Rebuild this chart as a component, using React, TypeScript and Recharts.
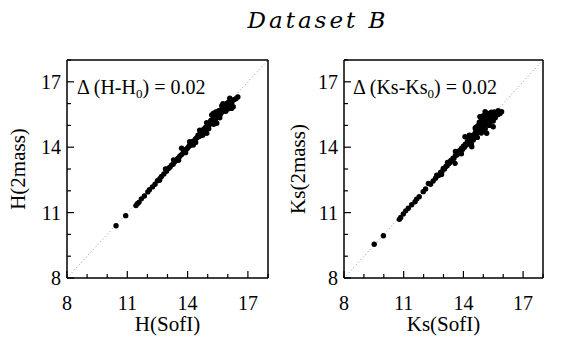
import React from 'react';
import { ScatterChart, Scatter, XAxis, YAxis, ReferenceLine } from 'recharts';

// H band: SofI vs 2MASS magnitudes
const hSofI = [
  10.44, 10.92, 11.43, 11.5, 11.58, 11.7, 11.85, 12.02, 12.1, 12.25, 12.38, 12.5, 12.62, 12.7, 12.82,
  12.95, 13.05, 13.12, 13.2, 13.28, 13.35, 13.42, 13.5, 13.56, 13.62, 13.7, 13.7, 13.78, 13.85, 13.92,
  13.98, 14.05, 14.1, 14.15, 14.2, 14.28, 14.25, 14.32, 14.38, 14.42, 14.48, 14.52, 14.58, 14.62, 14.66,
  14.7, 14.75, 14.8, 14.85, 14.88, 14.95, 14.92, 14.98, 15.02, 15.05, 15.1, 15.15, 15.2, 15.2, 15.25,
  15.28, 15.3, 15.35, 15.4, 15.45, 15.45, 15.5, 15.52, 15.58, 15.6, 15.65, 15.68, 15.72, 15.76, 15.78,
  15.82, 15.86, 15.9, 15.92, 15.96, 16.0, 16.05, 16.08, 16.12, 16.19, 16.2, 16.27, 16.3, 16.4, 16.5,
  14.6, 14.9, 15.15, 15.38, 15.62, 15.85, 16.02, 16.15, 15.55, 15.95,
  13.9, 14.1, 14.4, 14.6, 14.75, 14.95, 15.05, 15.3, 15.4, 15.6, 15.7, 15.9, 16.1, 16.0, 13.3, 13.55,
  12.9, 12.6,
];
const h2mass = [
  10.4, 10.86, 11.32, 11.41, 11.47, 11.63, 11.76, 11.95, 12.05, 12.18, 12.3, 12.46, 12.55, 12.66, 12.77,
  12.9, 13.02, 13.08, 13.18, 13.22, 13.33, 13.38, 13.47, 13.52, 13.6, 13.95, 13.66, 13.74, 13.8, 13.9,
  13.94, 14.02, 14.08, 14.1, 14.18, 14.1, 14.26, 14.28, 14.36, 14.4, 14.45, 14.55, 14.52, 14.62, 14.6,
  14.72, 14.68, 14.82, 14.78, 14.9, 14.64, 14.92, 14.96, 15.05, 14.98, 15.12, 15.08, 15.25, 15.48, 15.18,
  15.55, 15.32, 15.28, 15.45, 15.1, 15.38, 15.55, 15.46, 15.62, 15.5, 15.7, 15.58, 15.76, 16.0, 15.66,
  15.85, 15.74, 15.95, 15.82, 16.02, 15.9, 16.08, 15.95, 16.12, 15.78, 16.05, 15.86, 16.18, 16.22, 16.3,
  14.5, 14.8, 15.22, 15.25, 15.5, 15.92, 15.85, 16.0, 15.68, 15.78,
  13.75, 14.25, 14.22, 14.78, 14.55, 15.12, 14.85, 15.05, 15.62, 15.35, 15.9, 15.65, 16.25, 15.75, 13.42, 13.4,
  13.0, 12.48,
];

// Ks band: SofI vs 2MASS magnitudes
const ksSofI = [
  9.52, 9.98, 10.78, 10.85, 10.98, 11.1, 11.23, 11.4, 11.57, 11.65, 11.78, 11.98, 12.1, 12.24, 12.35,
  12.48, 12.6, 12.66, 12.75, 12.85, 12.92, 12.99, 13.05, 13.12, 13.18, 13.25, 13.3, 13.36, 13.42, 13.48,
  13.52, 13.58, 13.6, 13.66, 13.7, 13.75, 13.8, 13.85, 13.9, 13.95, 14.0, 14.05, 14.08, 14.1, 14.15,
  14.2, 14.25, 14.3, 14.35, 14.4, 14.42, 14.45, 14.5, 14.5, 14.55, 14.6, 14.62, 14.67, 14.7, 14.72,
  14.78, 14.8, 14.83, 14.85, 14.88, 14.92, 14.95, 14.98, 15.0, 15.02, 15.05, 15.09, 15.1, 15.12, 15.17,
  15.18, 15.2, 15.25, 15.28, 15.34, 15.35, 15.4, 15.45, 15.5, 15.5, 15.55, 15.59, 15.65, 15.7, 15.84, 15.92,
  14.6, 14.75, 14.9, 15.05, 15.15, 15.3, 15.42, 15.22, 14.95, 15.35, 15.6, 15.75,
  14.3, 14.4, 14.6, 14.7, 14.8, 14.9, 15.0, 15.1, 15.2, 15.3, 15.4, 15.5, 15.6, 15.75, 14.2, 13.9,
  13.6, 13.2, 12.9,
];
const ks2mass = [
  9.55, 9.94, 10.69, 10.78, 10.94, 11.08, 11.2, 11.36, 11.5, 11.62, 11.73, 11.96, 12.08, 12.34, 12.3,
  12.45, 12.58, 12.72, 12.7, 12.84, 12.88, 13.03, 13.0, 13.12, 13.15, 13.24, 13.28, 13.38, 13.4, 13.5,
  13.48, 13.26, 13.62, 13.64, 13.72, 13.7, 13.84, 13.8, 13.94, 13.9, 14.05, 14.0, 14.48, 14.14, 14.1,
  14.25, 14.2, 14.36, 14.3, 14.46, 14.02, 14.4, 14.33, 14.56, 14.5, 14.66, 14.58, 14.94, 14.75, 14.68,
  14.85, 14.76, 15.4, 14.95, 14.82, 15.33, 15.05, 14.9, 14.79, 15.15, 15.0, 15.63, 15.25, 15.1, 14.64,
  15.35, 15.2, 15.45, 15.15, 15.25, 15.5, 15.35, 15.58, 14.94, 15.45, 15.62, 15.55, 15.5, 15.6, 15.55, 15.63,
  14.85, 15.0, 15.2, 15.3, 15.45, 15.1, 15.2, 15.55, 14.75, 15.4, 15.42, 15.68,
  14.55, 14.15, 14.9, 14.45, 15.15, 14.65, 15.45, 14.85, 15.55, 15.0, 15.6, 15.2, 15.35, 15.5, 14.45, 13.7,
  13.8, 13.3, 12.75,
];

const tickValues = [8, 9, 10, 11, 12, 13, 14, 15, 16, 17, 18];
const majorTicks = [8, 11, 14, 17];

const hData = hSofI.map((x, i) => ({ x, y: h2mass[i] }));
const ksData = ksSofI.map((x, i) => ({ x, y: ks2mass[i] }));

const tickLen = (v: number) => (majorTicks.includes(v) ? 7 : 4);

const BottomTick = ({ x, y, payload }: any) => (
  <g>
    <line x1={x} x2={x} y1={y} y2={y - tickLen(payload.value)} stroke="#000" strokeWidth={1.2} />
    {majorTicks.includes(payload.value) && (
      <text x={x} y={y + 32} textAnchor="middle" fontSize={20} fill="#000">
        {payload.value}
      </text>
    )}
  </g>
);

const TopTick = ({ x, y, payload }: any) => (
  <line x1={x} x2={x} y1={y} y2={y + tickLen(payload.value)} stroke="#000" strokeWidth={1.2} />
);

const LeftTick = ({ x, y, payload }: any) => (
  <g>
    <line x1={x} x2={x + tickLen(payload.value)} y1={y} y2={y} stroke="#000" strokeWidth={1.2} />
    {majorTicks.includes(payload.value) && (
      <text x={x - 6} y={y + 7} textAnchor="end" fontSize={20} fill="#000">
        {payload.value}
      </text>
    )}
  </g>
);

const RightTick = ({ x, y, payload }: any) => (
  <line x1={x} x2={x - tickLen(payload.value)} y1={y} y2={y} stroke="#000" strokeWidth={1.2} />
);

const Dot = (p: any) => <circle cx={p.cx} cy={p.cy} r={2.7} fill="#000" />;

const Panel = ({ data, xLabel, yLabel, leftW, rightM, labelOffset }: any) => (
  <ScatterChart
    width={283}
    height={340}
    margin={{ top: 59, right: rightM, bottom: 4, left: 0 }}
  >
    <XAxis
      xAxisId="b"
      dataKey="x"
      type="number"
      domain={[8, 18]}
      ticks={tickValues}
      interval={0}
      height={58}
      tickSize={0}
      tickMargin={0}
      tickLine={false}
      tick={<BottomTick />}
      axisLine={{ stroke: '#000', strokeWidth: 1.5 }}
      label={{ value: xLabel, position: 'insideBottom', offset: 5, fontSize: 21, fill: '#000' }}
    />
    <XAxis
      xAxisId="t"
      orientation="top"
      type="number"
      domain={[8, 18]}
      ticks={tickValues}
      interval={0}
      height={1}
      tickSize={0}
      tickMargin={0}
      tickLine={false}
      tick={<TopTick />}
      axisLine={{ stroke: '#000', strokeWidth: 1.5 }}
    />
    <YAxis
      yAxisId="l"
      dataKey="y"
      type="number"
      domain={[8, 18]}
      ticks={tickValues}
      interval={0}
      width={leftW}
      tickSize={0}
      tickMargin={0}
      tickLine={false}
      tick={<LeftTick />}
      axisLine={{ stroke: '#000', strokeWidth: 1.5 }}
      label={{
        value: yLabel,
        angle: -90,
        position: 'insideLeft',
        offset: labelOffset,
        fontSize: 21,
        fill: '#000',
        style: { textAnchor: 'middle' },
      }}
    />
    <YAxis
      yAxisId="r"
      orientation="right"
      type="number"
      domain={[8, 18]}
      ticks={tickValues}
      interval={0}
      width={1}
      tickSize={0}
      tickMargin={0}
      tickLine={false}
      tick={<RightTick />}
      axisLine={{ stroke: '#000', strokeWidth: 1.5 }}
    />
    <ReferenceLine
      xAxisId="b"
      yAxisId="l"
      segment={[{ x: 8, y: 8 }, { x: 18, y: 18 }]}
      stroke="#777"
      strokeWidth={0.8}
      strokeDasharray="1 2.5"
    />
    <Scatter xAxisId="b" yAxisId="l" data={data} shape={Dot} isAnimationActive={false} />
  </ScatterChart>
);

export default function App() {
  return (
    <div style={{ position: 'absolute', left: 0, top: 0, width: 566, height: 340, background: '#fff' }}>
      <div style={{ position: 'absolute', left: 0, top: 0 }}>
        <Panel data={hData} xLabel="H(SofI)" yLabel="H(2mass)" leftW={67} rightM={14} labelOffset={18} />
      </div>
      <div style={{ position: 'absolute', left: 283, top: 0 }}>
        <Panel data={ksData} xLabel="Ks(SofI)" yLabel="Ks(2mass)" leftW={61} rightM={22} labelOffset={15} />
      </div>
      <svg
        width={566}
        height={340}
        style={{ position: 'absolute', left: 0, top: 0, pointerEvents: 'none' }}
      >
        <text
          x={318}
          y={28}
          textAnchor="middle"
          fontFamily="DejaVu Serif"
          fontStyle="italic"
          fontSize={23}
          letterSpacing={3}
          fill="#000"
        >
          Dataset B
        </text>
        <text x={77} y={94} fontSize={20} fill="#000">
          Δ (H-H<tspan fontSize={13} dy={4}>0</tspan>
          <tspan dy={-4}>) = 0.02</tspan>
        </text>
        <text x={353} y={94} fontSize={20} fill="#000">
          Δ (Ks-Ks<tspan fontSize={13} dy={4}>0</tspan>
          <tspan dy={-4}>) = 0.02</tspan>
        </text>
      </svg>
    </div>
  );
}
